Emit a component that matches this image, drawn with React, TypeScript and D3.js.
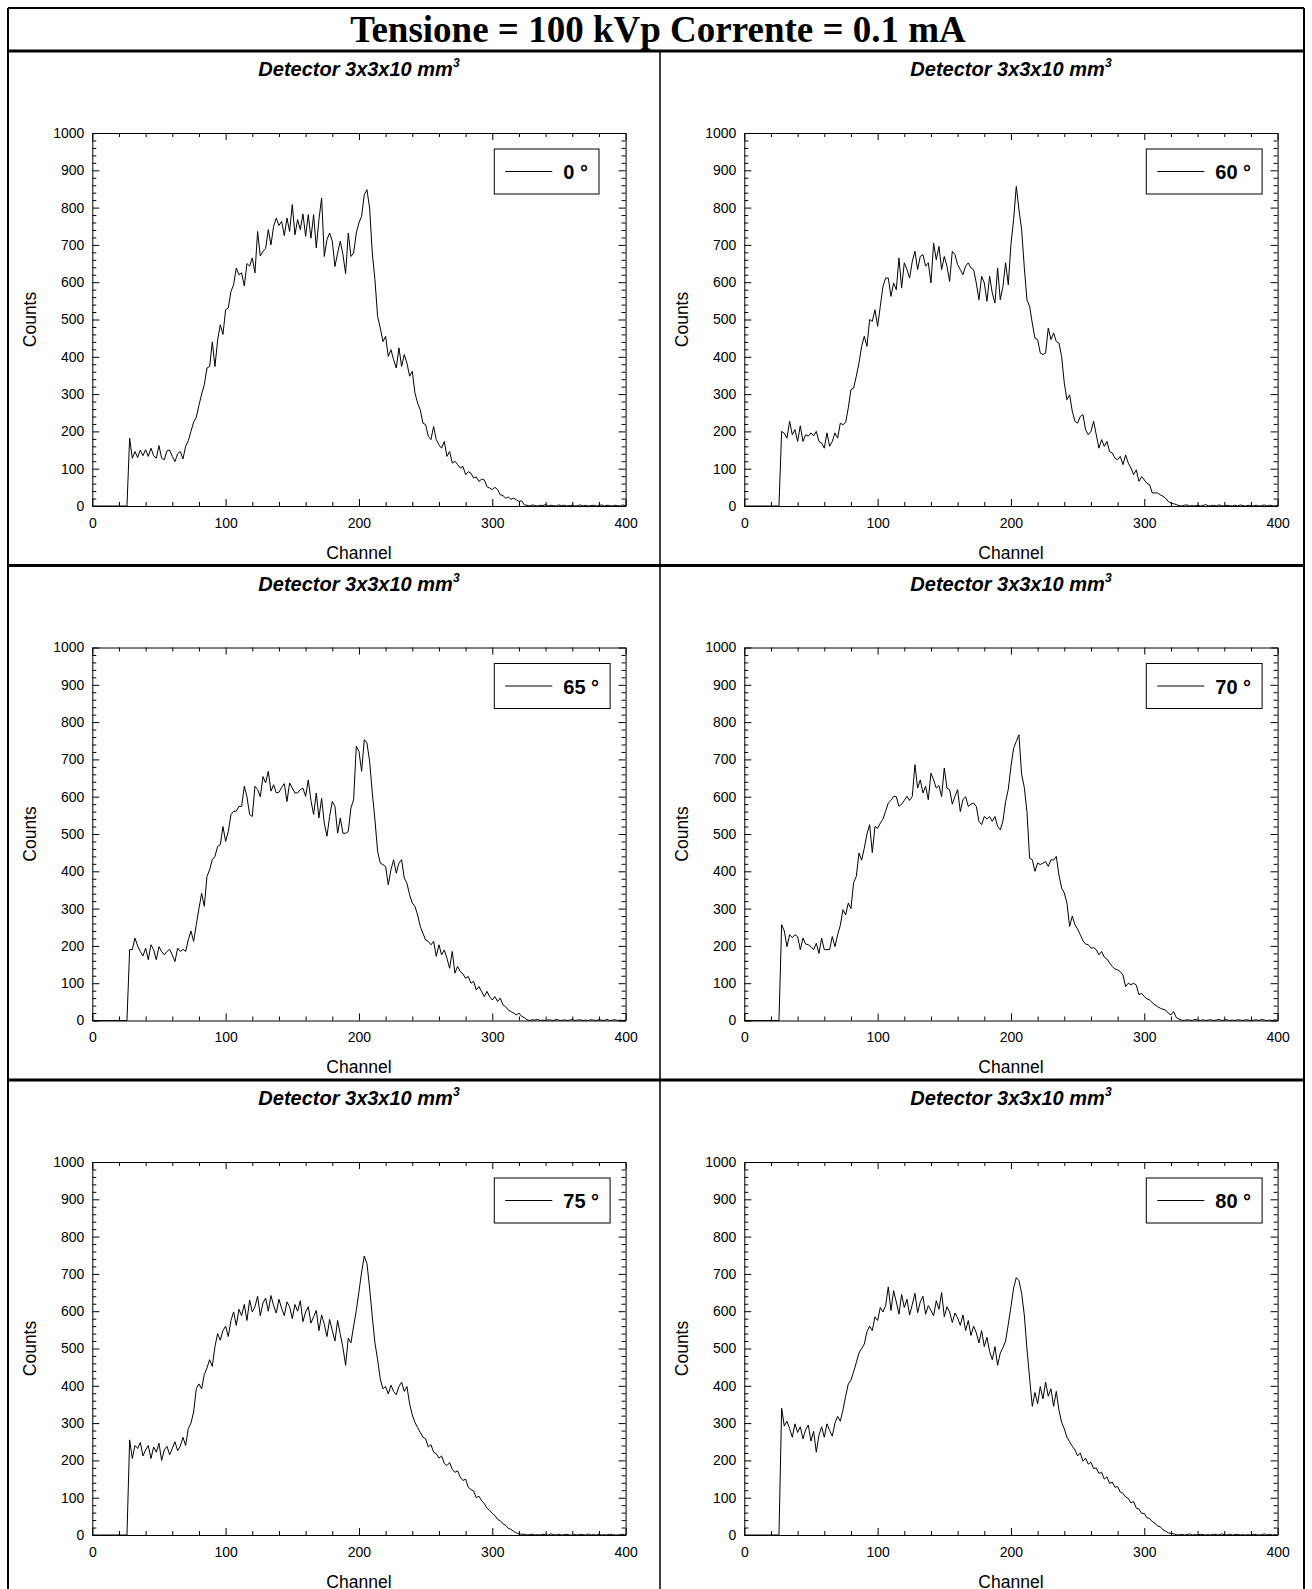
import React, { useEffect, useRef } from 'react'
import * as d3 from 'd3'

const title = 'Tensione = 100 kVp Corrente = 0.1 mA'
const subtitle = 'Detector 3x3x10 mm'
const legendLabels = ['0 °', '60 °', '65 °', '70 °', '75 °', '80 °']
const xTicks = [0, 100, 200, 300, 400]
const yTicks = [0, 100, 200, 300, 400, 500, 600, 700, 800, 900, 1000]
const xMinor = [20, 40, 60, 80, 120, 140, 160, 180, 220, 240, 260, 280, 320, 340, 360, 380]
const yMinor = d3.range(0, 1001, 20).filter(v => v % 100 !== 0)

// channel of every value below: 0, 2, 4 ... 400
const channels = d3.range(0, 401, 2)

const counts0 = [
  0, 0, 0, 0, 0, 0, 0, 0, 0, 0, // 0-18
  0, 0, 0, 0, 182, 128, 146, 130, 150, 135, // 20-38
  151, 133, 155, 135, 128, 162, 128, 124, 148, 150, // 40-58
  133, 119, 140, 146, 126, 160, 175, 200, 225, 238, // 60-78
  270, 300, 325, 370, 374, 440, 374, 445, 486, 460, // 80-98
  526, 531, 575, 593, 638, 620, 625, 590, 650, 643, // 100-118
  665, 625, 736, 670, 683, 690, 741, 700, 750, 772, // 120-138
  752, 763, 725, 772, 736, 808, 727, 768, 741, 783, // 140-158
  723, 781, 718, 781, 692, 768, 826, 669, 714, 732, // 160-178
  710, 642, 678, 710, 674, 623, 732, 669, 678, 732, // 180-198
  759, 777, 835, 848, 799, 678, 607, 508, 477, 441, // 200-218
  455, 401, 419, 392, 370, 424, 374, 406, 383, 348, // 220-238
  361, 303, 276, 258, 222, 218, 187, 178, 213, 178, // 240-258
  164, 155, 173, 133, 146, 115, 120, 111, 102, 106, // 260-278
  84, 92, 88, 75, 78, 66, 72, 70, 52, 48, // 280-298
  44, 50, 44, 30, 28, 21, 24, 18, 21, 17, // 300-318
  12, 14, 3, 2, 0, 3, 1, 0, 2, 1, // 320-338
  4, 0, 2, 1, 0, 3, 1, 2, 0, 1, // 340-358
  2, 0, 1, 3, 0, 2, 0, 1, 2, 0, // 360-378
  1, 3, 0, 2, 1, 0, 2, 1, 0, 3, // 380-398
  1, // 400
]

const counts60 = [
  0, 0, 0, 0, 0, 0, 0, 0, 0, 0,
  0, 0, 0, 0, 200, 195, 182, 227, 191, 205,
  173, 215, 173, 191, 187, 196, 188, 200, 173, 169,
  155, 196, 160, 173, 196, 182, 222, 218, 224, 263,
  312, 316, 348, 383, 428, 455, 428, 500, 495, 526,
  482, 535, 589, 611, 611, 562, 598, 580, 665, 585,
  652, 634, 611, 656, 683, 634, 669, 674, 643, 652,
  598, 705, 660, 696, 634, 669, 643, 602, 683, 674,
  647, 634, 620, 643, 652, 638, 634, 598, 553, 616,
  598, 549, 616, 571, 544, 638, 553, 589, 652, 593,
  701, 768, 857, 795, 741, 640, 553, 535, 490, 450,
  446, 410, 406, 410, 477, 446, 464, 441, 437, 401,
  330, 285, 298, 254, 227, 222, 240, 245, 204, 191,
  200, 227, 191, 155, 178, 160, 173, 146, 142, 128,
  124, 133, 111, 137, 115, 102, 84, 97, 66, 79,
  70, 61, 57, 35, 35, 35, 30, 26, 21, 12,
  8, 6, 4, 1, 0, 2, 3, 0, 1, 0,
  2, 0, 1, 4, 0, 1, 2, 0, 3, 1,
  0, 2, 1, 0, 2, 0, 3, 1, 0, 2,
  1, 0, 2, 0, 1, 3, 0, 2, 1, 0,
  2,
]

const counts65 = [
  0, 0, 0, 0, 0, 0, 0, 0, 0, 0,
  0, 0, 0, 0, 190, 190, 221, 200, 185, 173,
  194, 163, 203, 190, 163, 198, 185, 176, 185, 191,
  176, 158, 194, 185, 191, 185, 216, 240, 212, 257,
  300, 341, 306, 386, 404, 431, 440, 467, 471, 520,
  480, 507, 552, 561, 561, 574, 574, 628, 600, 552,
  547, 628, 619, 600, 654, 637, 668, 615, 632, 610,
  612, 625, 635, 587, 637, 623, 610, 610, 619, 623,
  601, 645, 590, 552, 610, 543, 596, 529, 494, 547,
  587, 574, 502, 543, 502, 502, 507, 570, 592, 735,
  722, 668, 753, 744, 695, 610, 538, 453, 422, 418,
  413, 364, 404, 431, 395, 422, 431, 382, 368, 337,
  315, 306, 283, 252, 234, 216, 212, 203, 212, 172,
  203, 176, 189, 167, 140, 185, 127, 145, 131, 125,
  113, 118, 100, 105, 82, 91, 78, 64, 78, 64,
  55, 64, 51, 60, 42, 37, 28, 24, 20, 15,
  20, 11, 8, 2, 0, 2, 1, 3, 0, 1,
  0, 2, 1, 0, 3, 1, 0, 2, 0, 1,
  3, 0, 1, 2, 0, 1, 0, 2, 1, 0,
  2, 1, 0, 3, 0, 1, 2, 0, 1, 0,
  1,
]

const counts70 = [
  0, 0, 0, 0, 0, 0, 0, 0, 0, 0,
  0, 0, 0, 0, 257, 240, 198, 230, 222, 230,
  225, 190, 221, 205, 203, 198, 190, 207, 180, 221,
  190, 190, 190, 225, 198, 230, 255, 297, 283, 315,
  300, 370, 386, 449, 430, 462, 500, 525, 450, 520,
  515, 529, 540, 561, 583, 590, 601, 600, 574, 580,
  590, 601, 590, 601, 686, 623, 645, 610, 628, 592,
  663, 645, 623, 630, 600, 677, 623, 619, 580, 601,
  619, 560, 592, 600, 574, 580, 583, 574, 534, 525,
  547, 540, 547, 534, 547, 520, 511, 535, 587, 620,
  681, 730, 748, 766, 660, 625, 560, 435, 431, 400,
  422, 418, 422, 426, 413, 431, 430, 440, 390, 355,
  342, 315, 252, 280, 257, 245, 230, 214, 205, 203,
  194, 195, 190, 176, 185, 170, 165, 154, 145, 138,
  136, 131, 122, 91, 100, 96, 100, 95, 69, 73,
  64, 58, 55, 48, 42, 37, 33, 30, 28, 20,
  15, 24, 8, 4, 1, 0, 2, 1, 0, 3,
  1, 0, 2, 0, 1, 2, 0, 1, 3, 0,
  1, 2, 0, 1, 0, 2, 1, 0, 2, 1,
  0, 1, 2, 0, 3, 1, 0, 1, 0, 2,
  0,
]

const counts75 = [
  0, 0, 0, 0, 0, 0, 0, 0, 0, 0,
  0, 0, 0, 0, 255, 205, 240, 232, 248, 212,
  228, 240, 205, 236, 222, 246, 200, 228, 238, 215,
  232, 250, 226, 238, 262, 240, 285, 300, 330, 392,
  405, 392, 430, 448, 470, 452, 505, 540, 522, 548,
  560, 532, 575, 598, 562, 605, 588, 618, 575, 630,
  598, 612, 640, 588, 622, 635, 600, 642, 615, 595,
  632, 608, 588, 625, 612, 580, 618, 600, 628, 572,
  598, 612, 568, 585, 602, 548, 590, 565, 532, 578,
  548, 520, 575, 538, 502, 455, 528, 515, 560, 602,
  652, 705, 748, 728, 662, 585, 515, 470, 418, 392,
  398, 378, 402, 385, 376, 398, 410, 385, 398, 352,
  322, 302, 288, 275, 262, 258, 236, 242, 222, 218,
  206, 212, 192, 186, 194, 176, 168, 172, 155, 146,
  150, 128, 122, 118, 100, 104, 92, 84, 72, 66,
  58, 52, 42, 38, 30, 26, 18, 15, 10, 6,
  3, 2, 2, 0, 1, 2, 0, 1, 0, 2,
  1, 0, 3, 1, 0, 2, 0, 1, 2, 0,
  0, 1, 0, 2, 1, 0, 3, 0, 1, 0,
  2, 0, 1, 0, 2, 1, 0, 0, 1, 2,
  0,
]

const counts80 = [
  0, 0, 0, 0, 0, 0, 0, 0, 0, 0,
  0, 0, 0, 0, 340, 292, 305, 285, 262, 298,
  275, 290, 258, 282, 295, 252, 278, 222, 268, 290,
  262, 298, 280, 265, 300, 318, 305, 335, 372, 405,
  415, 438, 462, 488, 500, 512, 545, 560, 548, 585,
  575, 610, 598, 615, 665, 602, 655, 625, 592, 645,
  610, 632, 590, 618, 648, 596, 625, 640, 592, 615,
  602, 588, 628, 605, 650, 585, 612, 598, 570, 595,
  582, 562, 590, 548, 575, 535, 560, 542, 515, 548,
  505, 530, 492, 470, 505, 455, 488, 502, 520, 565,
  612, 662, 690, 682, 648, 590, 500, 420, 345, 382,
  352, 398, 365, 410, 372, 392, 345, 385, 335, 302,
  285, 262, 250, 238, 228, 212, 220, 198, 206, 190,
  195, 178, 180, 165, 168, 150, 156, 138, 142, 128,
  130, 115, 112, 102, 98, 86, 90, 72, 70, 58,
  58, 46, 44, 36, 32, 24, 22, 14, 10, 6,
  4, 3, 1, 0, 2, 0, 1, 3, 0, 1,
  0, 2, 1, 0, 1, 0, 2, 1, 0, 3,
  1, 0, 2, 0, 1, 2, 0, 1, 0, 1,
  0, 2, 1, 0, 1, 3, 0, 2, 0, 1,
  0,
]

const spectra = [counts0, counts60, counts65, counts70, counts75, counts80]

const SANS = "Arial, 'Liberation Sans', sans-serif"
const SERIF = "'Times New Roman', 'Liberation Serif', serif"

export default function App() {
  const ref = useRef<SVGSVGElement>(null)

  useEffect(() => {
    const svg = d3.select(ref.current)
    svg.selectAll('*').remove()

    const frameL = 8, frameR = 1304, frameT = 8
    const titleLine = 51
    const colLeft = [8, 660]
    const rowTop = [52, 566.5, 1081]
    const pw = 533.3, ph = 373

    // cornice
    const frame = svg.append('g').attr('stroke', '#000').attr('fill', 'none')
    frame.append('line').attr('x1', frameL).attr('x2', frameR).attr('y1', frameT).attr('y2', frameT).attr('stroke-width', 2)
    frame.append('line').attr('x1', frameL).attr('x2', frameL).attr('y1', frameT).attr('y2', 1600).attr('stroke-width', 2)
    frame.append('line').attr('x1', frameR).attr('x2', frameR).attr('y1', frameT).attr('y2', 1600).attr('stroke-width', 2)
    frame.append('line').attr('x1', frameL).attr('x2', frameR).attr('y1', titleLine).attr('y2', titleLine).attr('stroke-width', 3)
    frame.append('line').attr('x1', frameL).attr('x2', frameR).attr('y1', 565.5).attr('y2', 565.5).attr('stroke-width', 3)
    frame.append('line').attr('x1', frameL).attr('x2', frameR).attr('y1', 1080).attr('y2', 1080).attr('stroke-width', 3)
    frame.append('line').attr('x1', 660).attr('x2', 660).attr('y1', titleLine).attr('y2', 1600).attr('stroke-width', 1.5)

    // titolo
    svg.append('text')
      .attr('x', 658)
      .attr('y', 42)
      .attr('text-anchor', 'middle')
      .attr('font-family', SERIF)
      .attr('font-weight', 'bold')
      .attr('font-size', 37)
      .text(title)

    spectra.forEach((counts, i) => {
      const col = i % 2
      const row = Math.floor(i / 2)
      const px = colLeft[col] + 84.3
      const py = rowTop[row] + 81

      const x = d3.scaleLinear().domain([0, 400]).range([px, px + pw])
      const y = d3.scaleLinear().domain([0, 1000]).range([py + ph, py])

      const g = svg.append('g')

      // sottotitolo con esponente
      const sub = g.append('text')
        .attr('x', px + pw / 2)
        .attr('y', rowTop[row] + 24)
        .attr('text-anchor', 'middle')
        .attr('font-family', SANS)
        .attr('font-weight', 'bold')
        .attr('font-style', 'italic')
        .attr('font-size', 20)
      sub.append('tspan').text(subtitle)
      sub.append('tspan').attr('dy', -9).attr('font-size', 12).text('3')

      const styleAxis = (sel: any) => {
        sel.attr('font-family', SANS).attr('font-size', 14)
        sel.selectAll('path').attr('stroke', '#000')
        sel.selectAll('line').attr('stroke', '#000')
        sel.selectAll('text').attr('fill', '#000')
      }
      const minorAxis = (sel: any) => {
        sel.select('.domain').remove()
        sel.selectAll('line').attr('stroke', '#000')
      }
      const fmt = d3.format('d')

      // assi
      g.append('g').attr('transform', `translate(0,${py + ph})`)
        .call(d3.axisBottom(x).tickValues(xTicks).tickSize(-7).tickSizeOuter(0).tickPadding(12).tickFormat(fmt))
        .call(styleAxis)
      g.append('g').attr('transform', `translate(0,${py + ph})`)
        .call(d3.axisBottom(x).tickValues(xMinor).tickSize(-4).tickFormat(() => ''))
        .call(minorAxis)
      g.append('g').attr('transform', `translate(0,${py})`)
        .call(d3.axisTop(x).tickValues(xTicks).tickSize(-7).tickSizeOuter(0).tickFormat(() => ''))
        .call(styleAxis)
      g.append('g').attr('transform', `translate(0,${py})`)
        .call(d3.axisTop(x).tickValues(xMinor).tickSize(-4).tickFormat(() => ''))
        .call(minorAxis)
      g.append('g').attr('transform', `translate(${px},0)`)
        .call(d3.axisLeft(y).tickValues(yTicks).tickSize(-7).tickSizeOuter(0).tickPadding(8).tickFormat(fmt))
        .call(styleAxis)
      g.append('g').attr('transform', `translate(${px},0)`)
        .call(d3.axisLeft(y).tickValues(yMinor).tickSize(-4).tickFormat(() => ''))
        .call(minorAxis)
      g.append('g').attr('transform', `translate(${px + pw},0)`)
        .call(d3.axisRight(y).tickValues(yTicks).tickSize(-7).tickSizeOuter(0).tickFormat(() => ''))
        .call(styleAxis)
      g.append('g').attr('transform', `translate(${px + pw},0)`)
        .call(d3.axisRight(y).tickValues(yMinor).tickSize(-4).tickFormat(() => ''))
        .call(minorAxis)

      // spettro
      const line = d3.line<number>()
        .x((d, k) => x(channels[k]))
        .y(d => y(d))
      g.append('path')
        .datum(counts)
        .attr('fill', 'none')
        .attr('stroke', '#000')
        .attr('stroke-width', 1)
        .attr('stroke-linejoin', 'round')
        .attr('d', line)

      // etichette assi
      g.append('text')
        .attr('x', px + pw / 2)
        .attr('y', py + ph + 52.5)
        .attr('text-anchor', 'middle')
        .attr('font-family', SANS)
        .attr('font-size', 17.5)
        .text('Channel')
      g.append('text')
        .attr('transform', `translate(${px - 56},${py + ph / 2}) rotate(-90)`)
        .attr('text-anchor', 'middle')
        .attr('font-family', SANS)
        .attr('font-size', 17.5)
        .text('Counts')

      // legenda
      const lx = px + 402, ly = py + 16
      const box = g.append('rect')
        .attr('x', lx).attr('y', ly).attr('height', 45)
        .attr('fill', '#fff').attr('stroke', '#000').attr('stroke-width', 1)
      g.append('line')
        .attr('x1', lx + 11).attr('x2', lx + 58)
        .attr('y1', ly + 22.5).attr('y2', ly + 22.5)
        .attr('stroke', '#000')
      const label = g.append('text')
        .attr('x', lx + 69)
        .attr('y', ly + 30)
        .attr('font-family', SANS)
        .attr('font-weight', 'bold')
        .attr('font-size', 20)
        .text(legendLabels[i])
      const tw = (label.node() as SVGTextElement).getComputedTextLength()
      box.attr('width', 69 + tw + 11)
    })
  }, [])

  return (
    <svg
      ref={ref}
      width={1312}
      height={1589}
      style={{ position: 'absolute', left: 0, top: 0, display: 'block', background: '#fff' }}
    />
  )
}
